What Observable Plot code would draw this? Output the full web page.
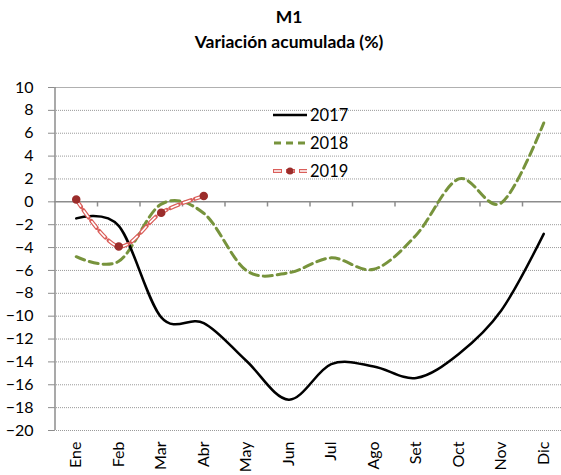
<!DOCTYPE html>
<html><head><meta charset="utf-8">
<script src="https://cdn.jsdelivr.net/npm/d3@7"></script>
<script src="https://cdn.jsdelivr.net/npm/@observablehq/plot@0.6"></script>
<style>
body{margin:0;background:#fff;font-family:Lato,"Open Sans",sans-serif;}
#wrap{position:relative;width:561px;height:475px;overflow:hidden;}
#title{position:absolute;left:0;width:578px;top:0;padding-top:4px;text-align:center;font-weight:bold;font-size:17.5px;line-height:25px;color:#000}
#chart{position:absolute;top:60px;left:0}
#legend{position:absolute;top:0;left:0}
</style></head><body>
<div id="wrap">
  <div id="title"><div>M1</div><div>Variación acumulada (%)</div></div>
  <div id="chart"></div>
  <svg id="legend" width="561" height="475"></svg>
</div>
<script>
const months = ["Ene","Feb","Mar","Abr","May","Jun","Jul","Ago","Set","Oct","Nov","Dic"];
const y2017 = [-1.45,-2.1,-10.1,-10.6,-13.9,-17.3,-14.2,-14.4,-15.4,-13.3,-9.5,-2.8];
const y2018 = [-4.8,-5.2,-0.2,-1.0,-6.0,-6.2,-4.9,-5.9,-2.9,2.0,-0.1,6.9];
const y2019 = [0.2,-3.9,-0.95,0.5];
const yTicks = [-20,-18,-16,-14,-12,-10,-8,-6,-4,-2,0,2,4,6,8,10];
const seriesNames = ["2017","2018","2019"];
const colors = {"2017":"#000000","2018":"#77933C","2019":"#DA5E5A"};
const markerColor = "#9B2D2B";

const rows = (arr) => arr.map((v,i)=>({i, v}));
const d17 = rows(y2017), d18 = rows(y2018), d19 = rows(y2019);
const idx = d3.range(months.length);
const boundaries = d3.range(months.length - 1).map(i => i + 0.5);
const xMin = -0.5, xMax = months.length - 0.5;
const font = "Lato, 'Open Sans', sans-serif";

const chart = Plot.plot({
  width: 561,
  height: 415,
  marginTop: 27,
  marginBottom: 45,
  marginLeft: 54,
  marginRight: 0,
  style: {fontFamily: font, fontSize: "16px", color: "#000", background: "transparent", overflow: "visible"},
  x: {domain: [xMin, xMax], range: [54.5, 564.5]},
  y: {domain: [-20, 10]},
  marks: [
    Plot.ruleY(yTicks.filter(v => v !== 0 && v !== 10), {stroke: "#9a9a9a", strokeDasharray: "1,1", strokeWidth: 1}),
    Plot.ruleY([10], {stroke: "#b0b0b0", strokeWidth: 1}),
    Plot.ruleY([0], {stroke: "#8c8c8c", strokeWidth: 1.5}),
    Plot.ruleX(boundaries, {y1: 0, y2: -0.45, stroke: "#8c8c8c", strokeWidth: 1.5}),
    Plot.ruleX([xMin], {y1: -20, y2: 10, stroke: "#8c8c8c", strokeWidth: 1.5}),
    Plot.axisY({ticks: yTicks, tickSize: 6, tickPadding: 15, stroke: "#8c8c8c", fontSize: 16, label: null}),
    Plot.axisX({ticks: idx, tickFormat: i => months[i], tickSize: 0, tickPadding: 11, tickRotate: -90, fontSize: 16, label: null}),
    Plot.line(d18, {x: "i", y: "v", stroke: colors["2018"], strokeWidth: 3, strokeDasharray: "9,5", curve: "cardinal"}),
    Plot.line(d17, {x: "i", y: "v", stroke: colors["2017"], strokeWidth: 2.5, curve: "cardinal"}),
    Plot.line(d19, {x: "i", y: "v", stroke: colors["2019"], strokeWidth: 4, strokeDasharray: "9,4", curve: "cardinal"}),
    Plot.line(d19, {x: "i", y: "v", stroke: "#ffffff", strokeWidth: 1.6, strokeDasharray: "7,6", strokeDashoffset: -1, curve: "cardinal"}),
    Plot.dot(d19, {x: "i", y: "v", r: 3.5, fill: markerColor, stroke: markerColor})
  ]
});
document.getElementById("chart").appendChild(chart);

// Legend
const lg = d3.select("#legend");
const rowsY = [115, 143, 171];
seriesNames.forEach((name, k) => {
  const y = rowsY[k];
  if (name === "2017") {
    lg.append("line").attr("x1",273).attr("x2",307).attr("y1",y).attr("y2",y).attr("stroke",colors[name]).attr("stroke-width",2.5);
  } else if (name === "2018") {
    lg.append("line").attr("x1",274).attr("x2",306).attr("y1",y).attr("y2",y).attr("stroke",colors[name]).attr("stroke-width",3).attr("stroke-dasharray","7,5");
  } else {
    lg.append("line").attr("x1",273).attr("x2",307).attr("y1",y).attr("y2",y).attr("stroke",colors[name]).attr("stroke-width",4).attr("stroke-dasharray","9,4");
    lg.append("line").attr("x1",273).attr("x2",307).attr("y1",y).attr("y2",y).attr("stroke","#fff").attr("stroke-width",1.6).attr("stroke-dasharray","7,6").attr("stroke-dashoffset",-1);
    lg.append("circle").attr("cx",290).attr("cy",y).attr("r",3.5).attr("fill",markerColor);
  }
  lg.append("text").attr("x",310).attr("y",y+6).attr("font-size",16.5).attr("font-family",font).attr("fill","#000").text(name);
});
</script>
</body></html>
